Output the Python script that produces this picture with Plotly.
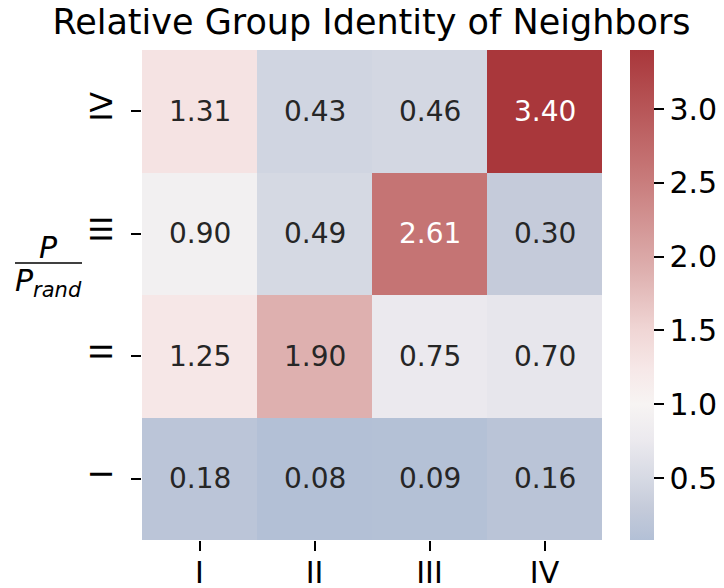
import plotly.graph_objects as go

x_labels = ["I", "II", "III", "IV"]
y_labels = ["I", "II", "III", "IV"]  # bottom to top

# rows: y = I (bottom) ... IV (top)
row_I = [0.18, 0.08, 0.09, 0.16]
row_II = [1.25, 1.90, 0.75, 0.70]
row_III = [0.90, 0.49, 2.61, 0.30]
row_IV = [1.31, 0.43, 0.46, 3.40]
z = [row_I, row_II, row_III, row_IV]

cb_ticks = [0.5, 1.0, 1.5, 2.0, 2.5, 3.0]

zmin, zmax = 0.08, 3.40
anchors = [
    (0.08, "#b3c0d6"),
    (0.30, "#c5cbda"),
    (0.46, "#d3d7e2"),
    (0.75, "#ebe9ee"),
    (1.00, "#f7f4f3"),
    (1.25, "#f6e7e7"),
    (1.50, "#f0d6d5"),
    (1.90, "#deb0af"),
    (2.61, "#c57474"),
    (3.40, "#a9373b"),
]
colorscale = [[(v - zmin) / (zmax - zmin), c] for v, c in anchors]

FONT = "DejaVu Sans"
TS = 30   # tick labels
AS = 28   # cell annotations
OFF = 8   # page body margin

W, H = 724 - OFF, 588 - OFF
L, T = 142 - OFF, 50 - OFF
PW, PH = 460, 490

fig = go.Figure(
    go.Heatmap(
        z=z,
        x=x_labels,
        y=y_labels,
        zmin=zmin,
        zmax=zmax,
        colorscale=colorscale,
        xgap=0,
        ygap=0,
        colorbar=dict(
            x=(630 - 142) / PW,
            xanchor="left",
            xpad=0,
            ypad=0,
            y=0.5,
            yanchor="middle",
            len=1,
            lenmode="fraction",
            thickness=24,
            outlinewidth=0,
            ticks="outside",
            ticklen=10,
            tickwidth=1.5,
            tickcolor="#000",
            tickvals=cb_ticks,
            ticktext=[f"{t:.1f}" for t in cb_ticks],
            tickfont=dict(family=FONT, size=TS, color="#000"),
        ),
        hoverinfo="skip",
    )
)

annotations = []
for yi, row in enumerate(z):
    for xi, v in enumerate(row):
        annotations.append(
            dict(
                x=x_labels[xi],
                y=y_labels[yi],
                text=f"{v:.2f}",
                showarrow=False,
                font=dict(family=FONT, size=AS,
                          color="#ffffff" if v > 2.2 else "#262626"),
            )
        )

def px_x(px):
    return (px - 142) / PW

def px_y(py):
    return (540 - py) / PH

annotations.append(dict(xref="paper", yref="paper", x=px_x(48), y=px_y(247),
                        text="<i>P</i>", showarrow=False,
                        font=dict(family=FONT, size=30, color="#000"),
                        xanchor="center", yanchor="middle"))
annotations.append(dict(xref="paper", yref="paper", x=px_x(48), y=px_y(282),
                        text="<i>P<sub>rand</sub></i>", showarrow=False,
                        font=dict(family=FONT, size=30, color="#000"),
                        xanchor="center", yanchor="middle"))

fig.update_layout(
    width=W,
    height=H,
    margin=dict(l=L, r=W - L - PW, t=T, b=H - T - PH, autoexpand=False, pad=0),
    paper_bgcolor="white",
    plot_bgcolor="white",
    font=dict(family=FONT, color="#000"),
    title=dict(
        text="Relative Group Identity of Neighbors",
        x=(371.5 - OFF) / W, xanchor="center",
        y=1 - (22 - OFF) / H, yanchor="middle",
        font=dict(family=FONT, size=35, color="#000"),
    ),
    xaxis=dict(
        ticks="outside", ticklen=10, tickwidth=1.5, tickcolor="#000",
        ticklabelstandoff=-4,
        tickfont=dict(family=FONT, size=TS, color="#000"),
        showgrid=False, zeroline=False, showline=False,
    ),
    yaxis=dict(
        ticks="outside", ticklen=10, tickwidth=1.5, tickcolor="#000",
        ticklabelstandoff=7,
        tickangle=-90,
        tickfont=dict(family=FONT, size=TS, color="#000"),
        showgrid=False, zeroline=False, showline=False,
    ),
    annotations=annotations,
    shapes=[dict(type="line", xref="paper", yref="paper",
                 x0=px_x(15), x1=px_x(82), y0=px_y(263), y1=px_y(263),
                 line=dict(color="#000", width=1.5))],
)

fig.write_html("out.html")
